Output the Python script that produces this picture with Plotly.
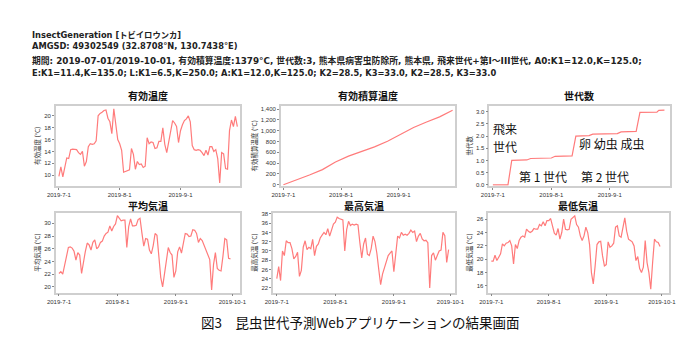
import pandas as pd
import plotly.graph_objects as go

W, H = 699, 344
START = "2019-07-01"

# ---------------- data ----------------
eff_temp = [9.8, 11.4, 9.7, 11.2, 12.9, 12.8, 14.3, 14.4, 14.4, 14.3,
            13.8, 13.5, 14.0, 11.5, 12.3, 14.8, 15.3, 15.2, 15.3, 15.8,
            20.0, 20.4, 20.6, 20.9, 21.0, 19.6, 19.0, 17.0, 21.2, 18.5,
            16.0, 15.3, 14.2, 10.5, 10.6, 10.8, 10.9, 14.5, 13.5, 11.0,
            12.3, 11.8, 11.9, 11.3, 11.5, 16.3, 15.3, 15.6, 15.5, 14.5,
            14.6, 15.7, 15.7, 18.0, 15.2, 13.8, 15.8, 17.5, 19.2, 18.8,
            18.2, 15.5, 17.5, 18.5, 19.2, 19.5, 20.0, 19.0, 15.0, 14.3,
            14.2, 14.3, 14.2, 13.8, 13.3, 14.2, 13.4, 14.8, 14.8, 14.0,
            14.3, 12.8, 8.7, 13.8, 13.6, 11.1, 11.0, 17.5, 19.3, 18.2,
            19.9, 18.2]

cum_dates = ["2019-07-01", "2019-07-08", "2019-07-15", "2019-07-22", "2019-07-29",
             "2019-08-05", "2019-08-12", "2019-08-19", "2019-08-26", "2019-09-02",
             "2019-09-09", "2019-09-16", "2019-09-23", "2019-09-30"]
cum_vals = [0, 85, 180, 280, 420, 530, 610, 700, 805, 925, 1060, 1160, 1255, 1379]

gen_dates = ["2019-07-01", "2019-07-09", "2019-07-11", "2019-07-19", "2019-07-21",
             "2019-08-01", "2019-08-03", "2019-08-12", "2019-08-14", "2019-08-21",
             "2019-08-23", "2019-09-05", "2019-09-07", "2019-09-15", "2019-09-17",
             "2019-09-26", "2019-09-27", "2019-09-30"]
gen_vals = [0.0, 0.0, 1.0, 1.02, 1.08, 1.10, 1.17, 1.19, 2.0, 2.02,
            2.08, 2.10, 2.17, 2.19, 2.97, 2.98, 3.05, 3.06]

mean_temp = [22.1, 22.4, 22.0, 23.5, 24.8, 26.2, 26.3, 26.1, 25.6, 24.2,
             25.4, 25.0, 22.1, 24.0, 25.6, 26.9, 26.6, 25.8, 27.0, 27.4,
             26.0, 26.3, 27.0, 27.2, 28.0, 28.4, 28.6, 29.6, 28.8, 29.5,
             29.9, 31.2, 30.8, 30.4, 30.5, 30.5, 26.2, 29.5, 30.7, 29.6,
             29.6, 29.7, 30.6, 30.8, 28.5, 26.4, 27.6, 27.5, 25.8, 25.2,
             26.5, 28.4, 28.1, 24.5, 21.5, 20.0, 22.0, 23.5, 26.2, 25.4,
             25.0, 21.5, 22.5, 25.5, 26.3, 25.3, 27.0, 28.4, 28.3, 27.9,
             28.0, 29.0, 28.9, 28.4, 27.0, 27.6, 27.3, 26.5, 25.9, 25.0,
             24.3, 19.5, 23.5, 25.4, 22.9, 22.6, 22.5, 24.8, 27.6, 27.4,
             24.5, 24.4]

max_temp = [24.0, 26.6, 23.6, 30.0, 29.0, 32.2, 31.8, 31.8, 30.5, 28.3,
            28.8, 29.7, 24.5, 25.8, 30.8, 32.2, 30.3, 30.8, 30.5, 32.5,
            29.0, 31.0, 31.5, 32.8, 33.4, 34.0, 33.5, 34.8, 33.2, 34.6,
            35.8,
            36.2, 37.3, 37.0, 36.8, 36.7, 30.0, 34.6, 36.4, 35.5, 35.8,
            35.6, 35.8, 35.6, 31.8, 28.5, 31.5, 32.8, 29.3, 29.0, 30.5,
            33.2, 32.0, 29.5, 26.0, 22.7, 25.0, 26.5, 28.0, 29.0, 29.5,
            30.0,
            25.5, 29.5, 33.2, 32.8, 34.0, 33.4, 33.6, 33.4, 33.8, 34.5,
            34.0, 34.3, 32.0, 33.2, 33.8, 32.6, 32.2, 32.3, 31.8, 22.0,
            29.0, 29.6, 28.0, 29.0, 30.0, 30.2, 34.0, 33.3, 27.5, 30.3]

min_temp = [19.7, 19.7, 20.6, 19.8, 20.3, 20.8, 22.3, 22.0, 22.4, 22.5,
            22.8, 22.0, 19.3, 22.2, 21.6, 22.8, 23.3, 23.5, 23.3, 24.5,
            24.2, 24.0, 24.2, 24.6, 24.5, 24.5, 25.2, 25.0, 25.6, 25.0,
            25.8,
            25.8, 26.1, 25.0, 23.9, 23.6, 24.6, 23.0, 24.0, 26.0, 24.5,
            24.4, 24.5, 26.0, 26.3, 26.5, 25.2, 24.8, 23.5, 22.8, 23.5,
            24.8, 24.0, 22.2, 18.0, 16.3, 19.0, 22.2, 22.6, 22.7, 20.5,
            19.0,
            19.2, 22.6, 21.8, 22.0, 22.4, 24.8, 25.0, 23.5, 23.3, 24.5,
            26.2, 24.2, 23.0, 22.8, 22.6, 22.0, 19.8, 20.4, 18.6, 18.0,
            18.8, 22.8, 19.5, 18.0, 15.5, 19.5, 23.0, 22.6, 22.5, 21.9]

panel_titles = ["有効温度", "有効積算温度", "世代数", "平均気温", "最高気温", "最低気温"]
y_titles = ["有効温度 (°C)", "有効積算温度 (°C)", "世代数", "平均気温 (°C)", "最高気温 (°C)", "最低気温 (°C)"]
top_ticks = ["2019-07-01", "2019-08-01", "2019-09-01"]
bottom_ticks = ["2019-07-01", "2019-08-01", "2019-09-01", "2019-10-01"]

header_lines = [
    "InsectGeneration [トビイロウンカ]",
    "AMGSD: 49302549 (32.8708°N, 130.7438°E)",
    "期間: 2019-07-01/2019-10-01, 有効積算温度:1379°C, 世代数:3, 熊本県病害虫防除所, 熊本県, 飛来世代+第I～III世代, A0:K1=12.0,K=125.0;",
    "E:K1=11.4,K=135.0; L:K1=6.5,K=250.0; A:K1=12.0,K=125.0; K2=28.5, K3=33.0, K2=28.5, K3=33.0",
]
caption = "図3　昆虫世代予測Webアプリケーションの結果画面"

# ---------------- helpers ----------------
def px(x):
    return x / W

def py(y):
    return 1 - y / H

def days(n):
    return pd.Timestamp(START) + pd.Timedelta(days=n)

LINE = dict(color="#ff7b7b", width=1.2)
SANS = "Liberation Sans, Arial, sans-serif"
CJK = "Noto Sans CJK JP"

# panel boxes in pixels (left, right, top, bottom), x range in days from start, y range
panels = [
    dict(box=(48, 237, 105, 186), xr=(-1.6, 92.3), yr=(8.2, 21.7), dtick=2, fmt=None, ticks=top_ticks),
    dict(box=(279, 458, 105, 186), xr=(-1.4, 92.4), yr=(-20, 1460), dtick=200, fmt=",", ticks=top_ticks),
    dict(box=(493, 678, 105, 186), xr=(-1.9, 93.7), yr=(-0.04, 3.24), dtick=0.5, fmt=".1f", ticks=top_ticks),
    dict(box=(48, 237, 213, 294), xr=(-1.7, 96.0), yr=(19.1, 31.7), dtick=2, fmt=None, ticks=bottom_ticks),
    dict(box=(271, 458, 213, 294), xr=(-2.0, 94.5), yr=(21.0, 38.3), dtick=2, fmt=None, ticks=bottom_ticks),
    dict(box=(492, 677, 213, 294), xr=(-1.6, 95.6), yr=(15.0, 27.0), dtick=2, fmt=None, ticks=bottom_ticks),
]

series = [
    (pd.date_range(START, periods=len(eff_temp)), eff_temp),
    (pd.to_datetime(cum_dates), cum_vals),
    (pd.to_datetime(gen_dates), gen_vals),
    (pd.date_range(START, periods=len(mean_temp)), mean_temp),
    (pd.date_range(START, periods=len(max_temp)), max_temp),
    (pd.date_range(START, periods=len(min_temp)), min_temp),
]

fig = go.Figure()
annotations = []
layout = {}

for i, (p, (xs, ys)) in enumerate(zip(panels, series)):
    n = i + 1
    xa = "x" if n == 1 else f"x{n}"
    ya = "y" if n == 1 else f"y{n}"
    fig.add_trace(go.Scatter(x=xs, y=ys, mode="lines", line=LINE,
                             xaxis=xa, yaxis=ya, hoverinfo="skip"))
    l, r, t, b = p["box"]
    xkey = "xaxis" if n == 1 else f"xaxis{n}"
    ykey = "yaxis" if n == 1 else f"yaxis{n}"
    layout[xkey] = dict(
        domain=[px(l), px(r)], anchor=ya, type="date",
        range=[days(p["xr"][0]), days(p["xr"][1])],
        tickvals=p["ticks"], tickformat="%Y-%-m-%-d",
        showline=True, mirror=True, linecolor="#cfcfcf", linewidth=1.5,
        ticks="outside", ticklen=2, tickcolor="#888", tickwidth=0.6,
        showgrid=False, zeroline=False,
        tickfont=dict(size=6, color="#333", family=SANS),
    )
    ydict = dict(
        domain=[py(b), py(t)], anchor=xa,
        range=list(p["yr"]), dtick=p["dtick"], tick0=0,
        showline=True, mirror=True, linecolor="#cfcfcf", linewidth=1.5,
        ticks="outside", ticklen=2, tickcolor="#888", tickwidth=0.6,
        showgrid=False, zeroline=False,
        tickfont=dict(size=6, color="#333", family=SANS),
        title=dict(text=y_titles[i], font=dict(size=6.5, color="#333", family=CJK), standoff=3),
    )
    if p["fmt"]:
        ydict["tickformat"] = p["fmt"]
    layout[ykey] = ydict
    annotations.append(dict(
        text=f"<b>{panel_titles[i]}</b>", x=px((l + r) / 2), y=py(95 if t < 200 else 206),
        xref="paper", yref="paper", showarrow=False, xanchor="center", yanchor="middle",
        font=dict(size=10, color="#111", family=CJK)))

# header text
header_y = [33, 45, 59, 72]
header_size = [8.3, 8.3, 8.8, 8.3]
for txt, yy, fs in zip(header_lines, header_y, header_size):
    annotations.append(dict(
        text=f"<b>{txt}</b>", x=px(22), y=py(yy), xref="paper", yref="paper",
        showarrow=False, xanchor="left", yanchor="middle",
        font=dict(size=fs, color="#222", family="DejaVu Sans, Noto Sans CJK JP")))

# generation labels inside 世代数 panel
gen_labels = [("飛来", 509, 128), ("世代", 509, 146), ("卵 幼虫 成虫", 618, 143),
              ("第 1 世代", 548, 177), ("第 2 世代", 612, 177)]
for txt, xx, yy in gen_labels:
    annotations.append(dict(
        text=txt, x=px(xx), y=py(yy), xref="paper", yref="paper",
        showarrow=False, xanchor="center", yanchor="middle",
        font=dict(size=12, color="#111", family=CJK)))

# caption
annotations.append(dict(
    text=caption, x=px(360), y=py(324), xref="paper", yref="paper",
    showarrow=False, xanchor="center", yanchor="middle",
    font=dict(size=13.5, color="#111", family=CJK)))

fig.update_layout(
    width=W, height=H, margin=dict(l=0, r=0, t=0, b=0),
    paper_bgcolor="white", plot_bgcolor="white", showlegend=False,
    annotations=annotations, **layout)

fig.write_html("out.html")
